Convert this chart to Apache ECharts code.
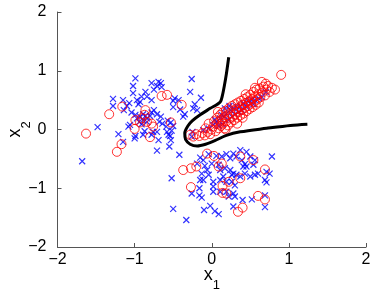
<!DOCTYPE html>
<html><head><meta charset="utf-8">
<script src="https://cdn.jsdelivr.net/npm/echarts@6/dist/echarts.min.js"></script>
<style>html,body{margin:0;padding:0;background:#fff}#c{width:374px;height:294px}</style>
</head><body><div id="c"></div>
<script>
var xTicks = [-2, -1, 0, 1, 2];
var yTicks = [-2, -1, 0, 1, 2];

var classO = [
[-1.63,-0.07],[-1.33,0.26],[-1.23,-0.38],[-1.17,-0.25],[-1.16,0.39],[-1.00,0.01],[-0.99,0.16],[-0.86,0.33],[-0.91,0.19],[-0.93,0.12],[-0.84,0.13],[-0.78,0.10],[-0.76,0.05],[-0.80,-0.13],[-0.87,0.25],[-0.65,0.57],[-0.58,0.59],[-0.53,0.12],[-0.39,0.42],
[-0.37,-0.69],[-0.27,-0.66],[-0.20,-0.63],[-0.27,-0.98],[-0.06,-0.41],[0.03,-0.45],[0.09,-0.63],[0.13,-0.58],[0.14,-0.96],[0.14,-1.08],[0.19,-1.09],[0.22,-0.89],[0.37,-0.46],[0.37,-0.83],[0.54,-0.52],[0.60,-1.13],[0.69,-0.68],[0.69,-1.19],[0.34,-1.40],[0.40,-1.33],[0.90,0.93],
[-0.28,-0.09],[-0.24,-0.12],[-0.20,-0.08],[-0.16,-0.11],[-0.12,-0.06],[-0.09,-0.10],[-0.05,-0.04],[-0.02,-0.08],[0.00,0.00],[-0.04,0.10],[0.02,0.05],[0.03,0.14],[0.05,-0.03],[0.06,0.09],[0.07,0.20],[0.09,0.02],[0.10,0.13],[0.11,0.25],[0.12,0.06],[0.13,0.17],[0.14,0.29],[0.15,0.10],[0.16,0.21],[0.17,0.02],[0.18,0.32],[0.19,0.14],[0.20,0.24],[0.21,0.07],[0.22,0.36],[0.23,0.19],[0.24,0.28],[0.25,0.12],[0.26,0.40],[0.27,0.22],[0.28,0.32],[0.29,0.16],[0.30,0.43],[0.31,0.26],[0.32,0.35],[0.33,0.20],[0.34,0.46],[0.35,0.30],[0.36,0.38],[0.37,0.24],[0.38,0.49],[0.39,0.33],[0.40,0.42],[0.41,0.27],[0.42,0.52],[0.43,0.37],[0.44,0.45],[0.45,0.31],[0.46,0.55],[0.47,0.40],[0.48,0.48],[0.49,0.35],[0.50,0.59],[0.51,0.44],[0.52,0.52],[0.53,0.38],[0.54,0.64],[0.55,0.47],[0.56,0.56],[0.57,0.42],[0.58,0.68],[0.59,0.51],[0.60,0.60],[0.61,0.46],[0.63,0.55],[0.65,0.81],[0.66,0.63],[0.67,0.73],[0.69,0.58],[0.71,0.68],[0.73,0.74],[0.75,0.64],[0.78,0.71],[0.82,0.68],[0.70,0.78],[0.56,0.71],[0.44,0.60],[0.62,0.70],[0.08,0.30],[-0.08,0.02],[0.33,0.10],[0.18,0.00],[0.40,0.20]
];

var classX = [
[-1.68,-0.54],[-1.48,0.04],[-1.28,0.52],[-1.28,0.40],[-1.15,0.50],[-1.14,0.33],[-1.10,0.40],[-1.07,0.45],[-1.21,-0.08],[-1.15,-0.21],[-1.02,0.74],[-0.99,0.87],[-1.02,0.62],[-0.97,0.50],[-0.93,0.47],[-0.91,0.56],[-0.86,0.64],[-0.95,0.43],[-1.04,0.29],[-0.99,0.25],[-0.97,0.19],[-0.93,0.22],[-0.89,0.26],[-0.86,0.23],[-0.84,0.19],[-0.89,0.16],[-0.94,0.13],[-0.91,0.09],[-0.84,0.13],[-0.80,0.23],[-0.78,0.29],[-0.75,0.33],[-0.71,0.26],[-1.06,0.08],[-1.08,0.05],[-0.99,-0.11],[-1.00,-0.15],[-0.87,-0.03],[-0.89,-0.09],[-0.78,-0.09],[-0.76,-0.04],[-0.71,-0.04],[-0.71,-0.36],[-0.69,-0.18],[-0.66,0.22],[-0.68,0.13],[-0.64,0.10],[-0.59,0.05],[-0.58,-0.04],[-0.56,-0.09],[-0.54,-0.11],[-0.53,-0.18],[-0.52,-0.02],[-0.55,-0.29],[-0.57,0.15],[-0.53,0.12],[-0.50,0.06],[-0.78,0.79],[-0.75,0.68],[-0.71,0.74],[-0.69,0.81],[-0.66,0.79],[-0.65,0.72],[-0.78,0.50],[-0.84,0.56],[-0.50,0.49],[-0.50,0.38],[-0.48,0.53],[-0.43,0.50],[-0.41,0.34],[-0.37,0.22],[-0.35,0.26],[-0.42,-0.43],[-0.52,-0.83],[-0.50,-1.35],[-0.33,-1.54],[-0.26,0.86],[-0.28,0.64],[-0.22,0.43],[-0.24,0.36],[-0.19,0.33],[-0.14,0.54],[-0.25,-0.04],[-0.26,-0.12],
[-0.15,-0.48],[-0.11,-0.52],[-0.19,-0.58],[-0.04,-0.42],[0.06,-0.45],[0.13,-0.46],[0.19,-0.42],[0.28,-0.41],[0.24,-0.49],[0.32,-0.46],[0.37,-0.35],[0.45,-0.38],[0.50,-0.46],[0.56,-0.52],[0.78,-0.46],[0.39,-0.52],[0.43,-0.59],[0.45,-0.63],[0.41,-0.63],[0.54,-0.60],[0.09,-0.60],[0.11,-0.69],[0.17,-0.66],[0.24,-0.69],[0.28,-0.75],[0.32,-0.77],[0.26,-0.77],[0.37,-0.80],[0.43,-0.75],[0.50,-0.80],[0.56,-0.77],[0.60,-0.75],[0.71,-0.72],[0.75,-0.75],[0.69,-0.86],[0.71,-0.90],[-0.06,-0.69],[-0.13,-0.75],[-0.04,-0.77],[-0.15,-0.86],[-0.11,-0.86],[0.02,-0.89],[-0.16,-1.00],[-0.26,-1.09],[-0.16,-1.12],[-0.13,-1.16],[0.02,-1.06],[0.11,-1.06],[0.19,-1.06],[0.28,-1.09],[0.30,-1.14],[0.22,-1.14],[-0.02,-1.30],[-0.10,-1.37],[0.04,-1.39],[0.09,-1.44],[0.28,-1.31],[0.40,-1.20],[0.52,-1.19],[0.69,-1.12],[0.69,-1.32],[0.02,-0.97],[0.11,-0.86],[0.15,-0.80],[0.19,-0.89],[0.26,-0.89],[0.30,-0.95],[-0.09,-0.62],[0.00,-0.58],
[0.02,0.08],[0.06,0.13],[0.11,0.19],[0.13,0.25],[0.16,0.22],[0.19,0.27],[0.24,0.33],[0.28,0.36],[0.32,0.39],[0.37,0.40],[0.41,0.45],[0.48,0.47],[0.52,0.50],[0.56,0.50],[0.61,0.53],[0.65,0.55],[0.70,0.64],[0.09,0.06],[0.14,0.09],[0.22,0.16],[0.26,0.22],[0.30,0.26],[0.35,0.30],[0.39,0.33],[0.45,0.38],[0.54,0.43],[-0.04,0.02],[-0.11,-0.01],[0.04,0.17],[0.17,0.36],[0.23,0.40]
];

var boundary = [
[0.22,1.23],[0.19,0.95],[0.16,0.72],[0.14,0.59],[0.11,0.47],[-0.02,0.36],[-0.15,0.25],[-0.25,0.15],[-0.31,0.06],[-0.35,-0.06],[-0.34,-0.17],[-0.28,-0.25],[-0.19,-0.28],[-0.08,-0.25],[0.04,-0.19],[0.19,-0.10],[0.37,-0.04],[0.71,0.02],[1.02,0.07],[1.24,0.09]
];

var chart = echarts.init(document.getElementById('c'));
var font = 'Liberation Sans, Arial, sans-serif';
function fmt(v){ return v < 0 ? '\u2212' + Math.abs(v) : String(v); }
chart.setOption({
  animation: false,
  grid: {left: 57.5, right: 8, top: 12, bottom: 47, containLabel: false, outerBoundsMode: 'none'},
  xAxis: {
    type: 'value', min: xTicks[0], max: xTicks[xTicks.length-1], interval: 1,
    axisLine: {show: true, onZero: false, lineStyle: {color: '#555', width: 1}},
    axisTick: {show: true, inside: true, length: 4, lineStyle: {color: '#555'}},
    splitLine: {show: false},
    axisLabel: {color: '#000', fontSize: 16, fontFamily: font, margin: 5, formatter: fmt},
    name: '{a|x}{b|1}', nameLocation: 'middle', nameGap: 19, nameMoveOverlap: false,
    nameTextStyle: {rich: {
      a: {fontSize: 18, fontFamily: font, color: '#000', verticalAlign: 'top'},
      b: {fontSize: 13, fontFamily: font, color: '#000', padding: [13,0,0,0], verticalAlign: 'top'}
    }}
  },
  yAxis: {
    type: 'value', min: yTicks[0], max: yTicks[yTicks.length-1], interval: 1,
    axisLine: {show: true, onZero: false, lineStyle: {color: '#555', width: 1}},
    axisTick: {show: true, inside: true, length: 4, lineStyle: {color: '#555'}},
    splitLine: {show: false},
    axisLabel: {color: '#000', fontSize: 16, fontFamily: font, margin: 11, formatter: fmt},
    name: '{a|x}{b|2}', nameLocation: 'middle', nameGap: 25, nameRotate: 90, nameMoveOverlap: false,
    nameTextStyle: {rich: {
      a: {fontSize: 18, fontFamily: font, color: '#000', verticalAlign: 'top'},
      b: {fontSize: 13, fontFamily: font, color: '#000', padding: [13,0,0,0], verticalAlign: 'top'}
    }}
  },
  series: [
    {
      type: 'scatter', data: classX, symbol: 'path://M0,0L10,10M10,0L0,10', symbolSize: 6,
      itemStyle: {color: 'rgba(0,0,0,0)', borderColor: '#0000ff', borderWidth: 1.2}, z: 2
    },
    {
      type: 'scatter', data: classO, symbol: 'circle', symbolSize: 9,
      itemStyle: {color: 'rgba(0,0,0,0)', borderColor: '#ff0000', borderWidth: 1}, z: 3
    },
    {
      type: 'line', data: boundary, showSymbol: false, smooth: 0.3,
      lineStyle: {color: '#000', width: 3}, z: 4
    }
  ]
});
</script></body></html>
